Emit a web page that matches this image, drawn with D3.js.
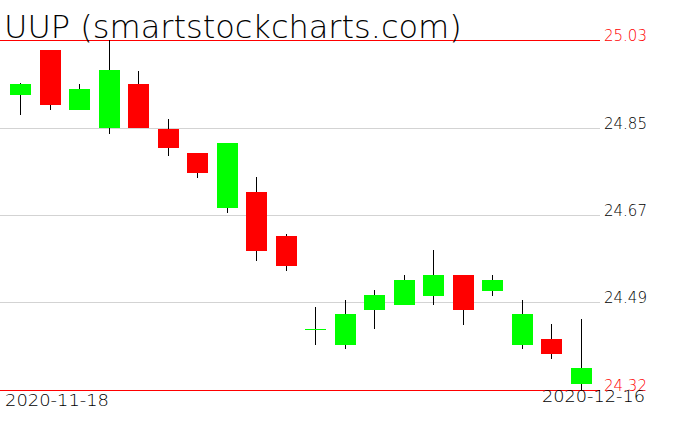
<!DOCTYPE html>
<html>
<head>
<meta charset="utf-8">
<script src="https://cdn.jsdelivr.net/npm/d3@7"></script>
<style>
html,body{margin:0;padding:0;background:#fff;}
svg{display:block;}
</style>
</head>
<body>
<svg id="chart" width="676" height="431"></svg>
<script>
const title = "UUP (smartstockcharts.com)";
const dates = ["2020-11-18","2020-11-19","2020-11-20","2020-11-23","2020-11-24","2020-11-25","2020-11-27","2020-11-30","2020-12-01","2020-12-02","2020-12-03","2020-12-04","2020-12-07","2020-12-08","2020-12-09","2020-12-10","2020-12-11","2020-12-14","2020-12-15","2020-12-16"];
const opens  = [24.919,25.010,24.889,24.852,24.941,24.849,24.801,24.690,24.722,24.632,24.444,24.412,24.483,24.493,24.511,24.553,24.521,24.412,24.423,24.333];
const highs  = [24.942,25.010,24.941,25.030,24.967,24.870,24.801,24.822,24.752,24.636,24.488,24.503,24.523,24.553,24.603,24.553,24.553,24.503,24.454,24.464];
const lows   = [24.878,24.889,24.888,24.840,24.851,24.795,24.751,24.680,24.582,24.562,24.412,24.404,24.443,24.492,24.493,24.452,24.511,24.404,24.383,24.320];
const closes = [24.941,24.899,24.931,24.969,24.852,24.810,24.761,24.821,24.601,24.572,24.444,24.474,24.513,24.543,24.553,24.483,24.543,24.474,24.394,24.365];
const tickValues = [24.32, 24.4985, 24.675, 24.8515, 25.03];
const tickLabels = ["24.32", "24.49", "24.67", "24.85", "25.03"];
const dateLabels = ["2020-11-18", "2020-12-16"];

const svg = d3.select("#chart");
const plotRight = 600;
const x = d3.scaleBand().domain(dates).range([5.75, 595.25]).paddingInner(0.288).paddingOuter(0.144);
const y = d3.scaleLinear().domain([24.32, 25.03]).range([390, 40]);
const center = d => Math.round(x(d) + x.bandwidth() / 2);

// grid lines
const grid = svg.append("g").attr("shape-rendering", "crispEdges");
tickValues.forEach((v, i) => {
  const isEdge = (i === 0 || i === tickValues.length - 1);
  const yy = Math.round(y(v)) + 0.5;
  grid.append("line")
    .attr("x1", 0).attr("x2", plotRight)
    .attr("y1", yy).attr("y2", yy)
    .attr("stroke", isEdge ? "#ff0000" : "#d3d3d3")
    .attr("stroke-width", 1);
});

// axis labels
const axis = svg.append("g");
tickValues.forEach((v, i) => {
  const isEdge = (i === 0 || i === tickValues.length - 1);
  axis.append("text")
    .attr("x", 604)
    .attr("y", Math.round(y(v)) + 1)
    .attr("fill", isEdge ? "#ff0000" : "#000")
    .attr("font-family", "DejaVu Sans")
    .attr("font-weight", 200)
    .attr("font-size", 15)
    .text(tickLabels[i]);
});

const candles = dates.map((d, i) => ({d, o: opens[i], h: highs[i], l: lows[i], c: closes[i]}));
const cg = svg.append("g").attr("shape-rendering", "crispEdges");

// wicks
cg.selectAll("line.wick").data(candles).enter().append("line")
  .attr("class", "wick")
  .attr("x1", d => center(d.d) + 0.5).attr("x2", d => center(d.d) + 0.5)
  .attr("y1", d => Math.round(y(d.h))).attr("y2", d => Math.round(y(d.l)))
  .attr("stroke", "#000").attr("stroke-width", 1);

const bw = Math.round(x.bandwidth());
// bodies
cg.selectAll("rect.body").data(candles.filter(d => Math.abs(d.o - d.c) > 0.0005)).enter().append("rect")
  .attr("class", "body")
  .attr("x", d => center(d.d) - Math.floor(bw / 2))
  .attr("width", bw)
  .attr("y", d => Math.round(y(Math.max(d.o, d.c))))
  .attr("height", d => Math.max(1, Math.round(y(Math.min(d.o, d.c))) - Math.round(y(Math.max(d.o, d.c)))))
  .attr("fill", d => d.c >= d.o ? "#00ff00" : "#ff0000");

// doji
cg.selectAll("line.doji").data(candles.filter(d => Math.abs(d.o - d.c) <= 0.0005)).enter().append("line")
  .attr("class", "doji")
  .attr("x1", d => center(d.d) - Math.floor(bw / 2)).attr("x2", d => center(d.d) - Math.floor(bw / 2) + bw)
  .attr("y1", d => Math.round(y(d.o)) + 0.5).attr("y2", d => Math.round(y(d.o)) + 0.5)
  .attr("stroke", "#00ff00").attr("stroke-width", 1);

// title
svg.append("text")
  .attr("x", 4).attr("y", 38)
  .attr("font-family", "DejaVu Sans")
  .attr("font-weight", 200)
  .attr("font-size", 32)
  .attr("fill", "#000")
  .text(title);

// date labels
svg.append("text")
  .attr("x", 5).attr("y", 406)
  .attr("font-family", "DejaVu Sans").attr("font-weight", 200)
  .attr("font-size", 16)
  .attr("textLength", 104).attr("lengthAdjust", "spacingAndGlyphs")
  .attr("fill", "#000")
  .text(dateLabels[0]);
svg.append("text")
  .attr("x", 542).attr("y", 402)
  .attr("font-family", "DejaVu Sans").attr("font-weight", 200)
  .attr("font-size", 16)
  .attr("textLength", 103).attr("lengthAdjust", "spacingAndGlyphs")
  .attr("fill", "#000")
  .text(dateLabels[1]);
</script>
</body>
</html>
